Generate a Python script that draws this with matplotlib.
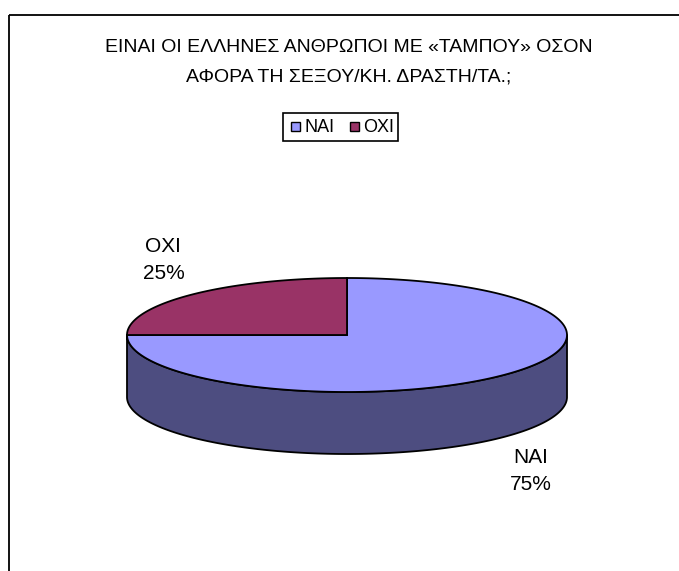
import numpy as np
import matplotlib.pyplot as plt
from matplotlib.patches import Polygon, Rectangle

plt.rcParams['font.family'] = ['Liberation Sans', 'DejaVu Sans']

title_lines = ['ΕΙΝΑΙ ΟΙ ΕΛΛΗΝΕΣ ΑΝΘΡΩΠΟΙ ΜΕ «ΤΑΜΠΟΥ» ΟΣΟΝ',
               'ΑΦΟΡΑ ΤΗ ΣΕΞΟΥ/ΚΗ. ΔΡΑΣΤΗ/ΤΑ.;']
labels = ['ΝΑΙ', 'ΟΧΙ']
shares = [75, 25]
top_colors = ['#9999ff', '#993366']
side_colors = ['#4d4d80', '#4d1a33']

W, H = 679, 571
fig = plt.figure(figsize=(W / 100, H / 100), dpi=100)
ax = fig.add_axes([0, 0, 1, 1])
ax.set_xlim(0, W)
ax.set_ylim(H, 0)
ax.axis('off')

# chart area border (only left and top edges fall inside the image)
ax.add_patch(Rectangle((8.5, 15), 800, 700, fill=False, ec='black', lw=1.3))

# pie geometry in pixel units
cx, cy, rx, ry, depth = 347, 335, 220, 57, 62


def pt(a, dy=0):
    a = np.radians(a)
    return cx + rx * np.cos(a), cy - ry * np.sin(a) + dy


def arc(a0, a1, dy=0, n=200):
    t = np.linspace(a0, a1, n)
    x, y = pt(t, dy)
    return np.column_stack([x, y])


total = sum(shares)
spans = []
start = 90.0
for s in shares:
    end = start - 360.0 * s / total
    spans.append((end, start))
    start = end

# sides: only the front (lower) half of the rim is visible
for (lo, hi), col in zip(spans, side_colors):
    for f0, f1 in [(-180, 0), (180, 360), (-540, -360)]:
        a0, a1 = max(lo, f0), min(hi, f1)
        if a1 <= a0:
            continue
        upper = arc(a0, a1)
        lower = arc(a1, a0, depth)
        ax.add_patch(Polygon(np.vstack([upper, lower]), closed=True,
                             fc=col, ec='black', lw=1.3, joinstyle='round'))

# top faces
for (lo, hi), col in zip(spans, top_colors):
    verts = np.vstack([[cx, cy], arc(lo, hi)])
    ax.add_patch(Polygon(verts, closed=True, fc=col, ec='black', lw=1.3,
                         joinstyle='miter'))

# data labels: category name above, percentage below
for (lo, hi), lab, s in zip(spans, labels, shares):
    mid = np.radians((lo + hi) / 2)
    x = cx + rx * 1.18 * np.cos(mid)
    y = cy - ry * 1.85 * np.sin(mid) + (depth if np.sin(mid) < 0 else 0)
    ax.text(x, y - 14, lab, ha='center', va='center', fontsize=15)
    ax.text(x, y + 13, f'{s / total:.0%}', ha='center', va='center',
            fontsize=15)

# title
for i, line in enumerate(title_lines):
    ax.text(349, 47 + 30 * i, line, ha='center', va='center', fontsize=14)

# legend
ax.add_patch(Rectangle((283, 113), 115, 28, fill=False, ec='black', lw=1.2))
lx = 291
for lab, col in zip(labels, top_colors):
    ax.add_patch(Rectangle((lx, 122), 9, 9, fc=col, ec='black', lw=1))
    ax.text(lx + 13, 127, lab, ha='left', va='center', fontsize=13)
    lx += 59

fig.savefig('out.png', dpi=100)
